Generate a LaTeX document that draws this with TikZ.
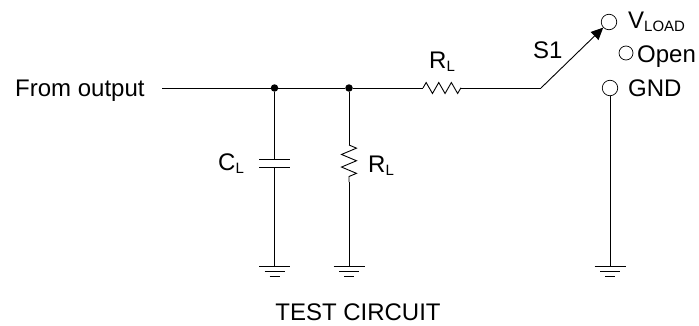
\documentclass[tikz,border=0pt]{standalone}
\usepackage{fontspec}
\setmainfont{Liberation Sans}
\usetikzlibrary{positioning,calc,arrows.meta,decorations.pathmorphing}

\newcommand{\lowtext}[1]{\raisebox{-3pt}{\fontsize{15}{15}\selectfont #1}}

\begin{document}
\begin{tikzpicture}[
    x=1pt, y=1pt,
    wire/.style={line width=0.9pt},
    dot/.style={circle, fill=black, inner sep=0pt, minimum size=7.5pt},
    contact/.style={circle, draw, line width=0.7pt, inner sep=0pt, minimum size=15.5pt},
    label/.style={inner sep=0pt, font=\fontsize{24}{26}\selectfont},
    resistor/.style={wire, decorate, decoration={zigzag, segment length=12.6pt, amplitude=#1}},
    gnd/.pic={
        \draw[line width=0.9pt] (-15.5,0) -- (15.5,0);
        \draw[line width=0.9pt] (-10,-5) -- (10,-5);
        \draw[line width=0.9pt] (-5,-10) -- (5,-10);
    }
]
\useasboundingbox (0,0) rectangle (699,325);

% Main line
\node[label, anchor=base west] (from) at (15,229) {From output};
\coordinate (start) at (162,237);
\node[dot] (junc_c) at (274.5,237) {};
\node[dot] (junc_r) at (349,237) {};
\coordinate (rh_in) at (423,237);
\coordinate (rh_out) at (461,237);
\coordinate (pivot) at (541,237);
\draw[wire] (start) -- (junc_c) -- (junc_r) -- (rh_in);
\draw[resistor=5.5pt] (rh_in) -- (rh_out);
\draw[wire] (rh_out) -- (pivot);
\node[label, anchor=base west] (rh_label) at (429,257) {R\lowtext{L}};

% Switch contacts
\node[contact] (vload) at (609,303) {};
\node[contact, minimum size=14pt] (open) at (626,272) {};
\node[contact] (gnd_pin) at (610,237) {};
\node[label, anchor=base west] (vload_label) at (628,297) {V\lowtext{LOAD}};
\node[label, anchor=base west] (open_label) at (637,263) {Open};
\node[label, anchor=base west] (gnd_label) at (628,229) {GND};
\draw[wire, -{Triangle[length=12pt,width=11pt]}] (pivot) -- (vload);
\node[label, anchor=base west] (s1) at (533,267) {S1};

% Capacitor branch
\coordinate (cap_top) at (274.5,166);
\coordinate (cap_bot) at (274.5,158);
\coordinate (gnd_c) at (274.5,59);
\draw[wire] (junc_c) -- (cap_top);
\draw[wire] ([xshift=-15.5pt]cap_top) -- ([xshift=15.5pt]cap_top);
\draw[wire] ([xshift=-15.5pt]cap_bot) -- ([xshift=15.5pt]cap_bot);
\draw[wire] (cap_bot) -- (gnd_c);
\pic at (gnd_c) {gnd};
\node[label, anchor=base west] (c_label) at (218,155) {C\lowtext{L}};

% Load branch
\coordinate (rv_in) at (349,180);
\coordinate (rv_out) at (349,143);
\coordinate (gnd_r) at (349,59);
\draw[wire] (junc_r) -- (rv_in);
\draw[resistor=7.5pt] (rv_in) -- (rv_out);
\draw[wire] (rv_out) -- (gnd_r);
\pic at (gnd_r) {gnd};
\node[label, anchor=base west] (rv_label) at (368,153) {R\lowtext{L}};

% Return to ground
\coordinate (gnd_s) at (610,59);
\draw[wire] (gnd_pin) -- (gnd_s);
\pic at (gnd_s) {gnd};

\node[label, anchor=base] (title) at (358,5) {TEST CIRCUIT};

\end{tikzpicture}
\end{document}
